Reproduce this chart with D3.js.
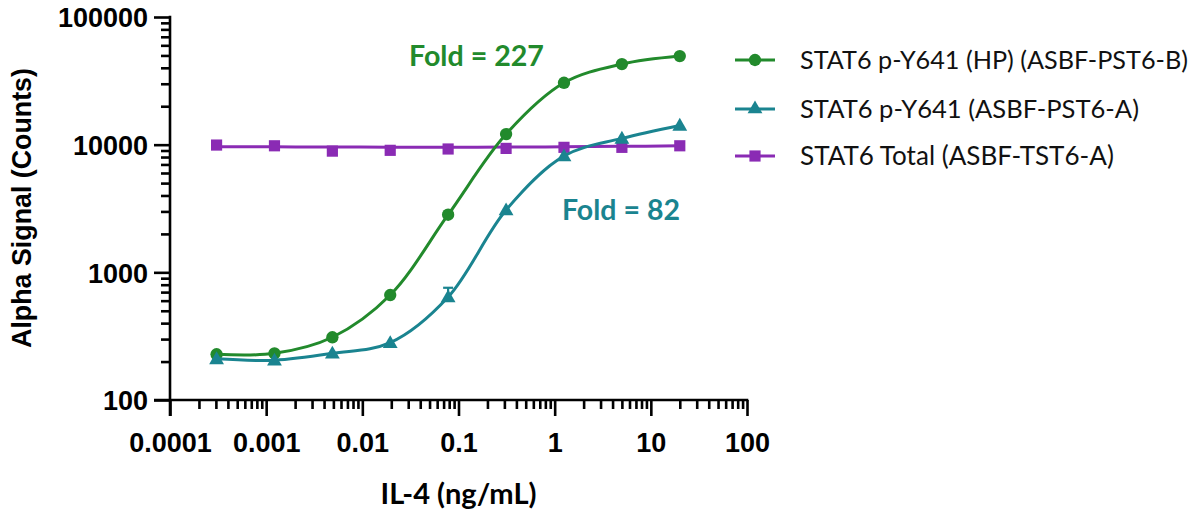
<!DOCTYPE html>
<html>
<head>
<meta charset="utf-8">
<script src="https://cdn.jsdelivr.net/npm/d3@7"></script>
<style>
  html, body { margin: 0; padding: 0; background: #fff; }
  svg { display: block; }
</style>
</head>
<body>
<svg id="chart" width="1199" height="518"></svg>
<script>
// ---------- DATA ----------
const conc = [0.000305, 0.00122, 0.00488, 0.0195, 0.078, 0.3125, 1.25, 5, 20];
const hpValues = [228, 232, 310, 664, 2826, 12100, 30540, 42750, 49400];
const pst6aValues = [210, 205, 232, 281, 640, 3077, 8150, 11200, 14150];
const pst6aErrHigh = [210, 205, 232, 281, 757, 3077, 8150, 11200, 14150];
const totalValues = [9930, 9800, 8900, 9030, 9250, 9350, 9530, 9530, 9800];
const totalFit = [9650, 9620, 9580, 9560, 9550, 9570, 9620, 9700, 9800];
const seriesNames = ["STAT6 p-Y641 (HP) (ASBF-PST6-B)", "STAT6 p-Y641 (ASBF-PST6-A)", "STAT6 Total (ASBF-TST6-A)"];
const foldLabels = ["Fold = 227", "Fold = 82"];
const xTickValues = [0.0001, 0.001, 0.01, 0.1, 1, 10, 100];
const xTickLabels = ["0.0001", "0.001", "0.01", "0.1", "1", "10", "100"];
const yTickValues = [100, 1000, 10000, 100000];
const yTickLabels = ["100", "1000", "10000", "100000"];
const xTitle = "IL-4 (ng/mL)";
const yTitle = "Alpha Signal (Counts)";

// ---------- STYLE ----------
const colors = ["#228a2c", "#1a8490", "#8a2bb4"];
const svg = d3.select("#chart");
const x = d3.scaleLog().domain([1e-4, 100]).range([170, 747]);
const y = d3.scaleLog().domain([100, 1e5]).range([400, 17]);
const axisW = 2.6;

function minorTicks(lo, hi) {
  const out = [];
  for (let d = lo; d < hi; d *= 10) for (let k = 2; k <= 9; k++) out.push(d * k);
  return out;
}
function fitText(sel, target) {
  const n = sel.node();
  const base = parseFloat(sel.attr("font-size"));
  const w = n.getComputedTextLength();
  if (w > 0) sel.attr("font-size", (base * target / w).toFixed(2));
}

// ---------- AXES ----------
const gx = svg.append("g");
gx.append("g").attr("transform", "translate(0,400)")
  .call(d3.axisBottom(x).tickValues(minorTicks(1e-4, 100)).tickSize(9).tickFormat(""))
  .call(g => g.select(".domain").remove())
  .selectAll("line").attr("stroke", "#000").attr("stroke-width", axisW);
const gxMaj = gx.append("g").attr("transform", "translate(0,400)")
  .call(d3.axisBottom(x).tickValues(xTickValues).tickSize(16)
    .tickFormat((d, i) => xTickLabels[i]))
  .call(g => g.select(".domain").remove());
gxMaj.selectAll("line").attr("stroke", "#000").attr("stroke-width", axisW);
gxMaj.selectAll("text").attr("y", 42).attr("dy", "0.36em")
  .attr("font-family", "Liberation Sans, Arial, sans-serif").attr("font-size", 27)
  .attr("font-weight", "bold").attr("fill", "#000");

const gy = svg.append("g");
gy.append("g").attr("transform", "translate(170,0)")
  .call(d3.axisLeft(y).tickValues(minorTicks(100, 1e5)).tickSize(9).tickFormat(""))
  .call(g => g.select(".domain").remove())
  .selectAll("line").attr("stroke", "#000").attr("stroke-width", axisW);
const gyMaj = gy.append("g").attr("transform", "translate(170,0)")
  .call(d3.axisLeft(y).tickValues(yTickValues).tickSize(16)
    .tickFormat((d, i) => yTickLabels[i]))
  .call(g => g.select(".domain").remove());
gyMaj.selectAll("line").attr("stroke", "#000").attr("stroke-width", axisW);
gyMaj.selectAll("text").attr("x", -22).attr("dy", "0.36em")
  .attr("font-family", "Liberation Sans, Arial, sans-serif").attr("font-size", 27)
  .attr("font-weight", "bold").attr("fill", "#000");

svg.append("line").attr("x1", 154).attr("x2", x(100) + axisW / 2)
  .attr("y1", 400).attr("y2", 400).attr("stroke", "#000").attr("stroke-width", axisW);
svg.append("line").attr("x1", 170).attr("x2", 170)
  .attr("y1", y(1e5) - axisW / 2).attr("y2", 416).attr("stroke", "#000").attr("stroke-width", axisW);

const xt = svg.append("text").attr("x", (x(1e-4) + x(100)) / 2).attr("y", 494)
  .attr("text-anchor", "middle").attr("dy", "0.35em")
  .attr("font-family", "Lato, sans-serif").attr("font-weight", "bold").attr("font-size", 22)
  .attr("fill", "#000").text(xTitle);
fitText(xt, 156);
const yt = svg.append("text").attr("transform", "translate(22,208) rotate(-90)")
  .attr("text-anchor", "middle").attr("dy", "0.35em")
  .attr("font-family", "Liberation Sans, Arial, sans-serif").attr("font-weight", "bold").attr("font-size", 22)
  .attr("fill", "#000").text(yTitle);
fitText(yt, 280);

// ---------- SERIES ----------
const symbols = [d3.symbolCircle, d3.symbolTriangle, d3.symbolSquare];
const symSizes = [120, 95, 125];
const lineGen = d3.line().x(d => x(d[0])).y(d => y(d[1])).curve(d3.curveCatmullRom.alpha(0.5));

const lines = [
  d3.zip(conc, hpValues),
  d3.zip(conc, pst6aValues),
  d3.zip(conc, totalFit)
];
const points = [
  d3.zip(conc, hpValues),
  d3.zip(conc, pst6aValues),
  d3.zip(conc, totalValues)
];

[2, 0, 1].forEach(i => {
  svg.append("path").datum(lines[i]).attr("d", lineGen)
    .attr("fill", "none").attr("stroke", colors[i]).attr("stroke-width", 3);
  if (i === 1) {
    const eb = d3.zip(conc, pst6aValues, pst6aErrHigh).filter(d => d[2] > d[1]);
    const ge = svg.append("g").attr("stroke", colors[1]).attr("stroke-width", 2.2);
    ge.selectAll("line.v").data(eb).join("line")
      .attr("x1", d => x(d[0])).attr("x2", d => x(d[0]))
      .attr("y1", d => y(d[1])).attr("y2", d => y(d[2]));
    ge.selectAll("line.c").data(eb).join("line")
      .attr("x1", d => x(d[0]) - 5).attr("x2", d => x(d[0]) + 5)
      .attr("y1", d => y(d[2])).attr("y2", d => y(d[2]));
  }
  svg.append("g").selectAll("path").data(points[i]).join("path")
    .attr("transform", d => `translate(${x(d[0])},${y(d[1]) + (i === 1 ? 1 : 0)})`)
    .attr("d", d3.symbol().type(symbols[i]).size(symSizes[i]))
    .attr("fill", colors[i]);
});

const f1 = svg.append("text").attr("x", 409).attr("y", 56).attr("dy", "0.35em")
  .attr("font-family", "Lato, sans-serif").attr("font-weight", "bold").attr("font-size", 24)
  .attr("fill", colors[0]).text(foldLabels[0]);
fitText(f1, 135);
const f2 = svg.append("text").attr("x", 562).attr("y", 210).attr("dy", "0.35em")
  .attr("font-family", "Lato, sans-serif").attr("font-weight", "bold").attr("font-size", 24)
  .attr("fill", colors[1]).text(foldLabels[1]);
fitText(f2, 118);

// ---------- LEGEND ----------
const legY = [60, 109, 156];
const legW = [388, 339, 314];
seriesNames.forEach((name, i) => {
  const g = svg.append("g").attr("transform", `translate(0,${legY[i]})`);
  g.append("line").attr("x1", 735).attr("x2", 775).attr("y1", 0).attr("y2", 0)
    .attr("stroke", colors[i]).attr("stroke-width", 3);
  g.append("path").attr("transform", "translate(755,0)")
    .attr("d", d3.symbol().type(symbols[i]).size(symSizes[i])).attr("fill", colors[i]);
  const t = g.append("text").attr("x", 800).attr("y", 0).attr("dy", "0.35em")
    .attr("font-family", "Lato, sans-serif").attr("font-size", 20).attr("fill", "#111").text(name);
  fitText(t, legW[i]);
});
</script>
</body>
</html>
